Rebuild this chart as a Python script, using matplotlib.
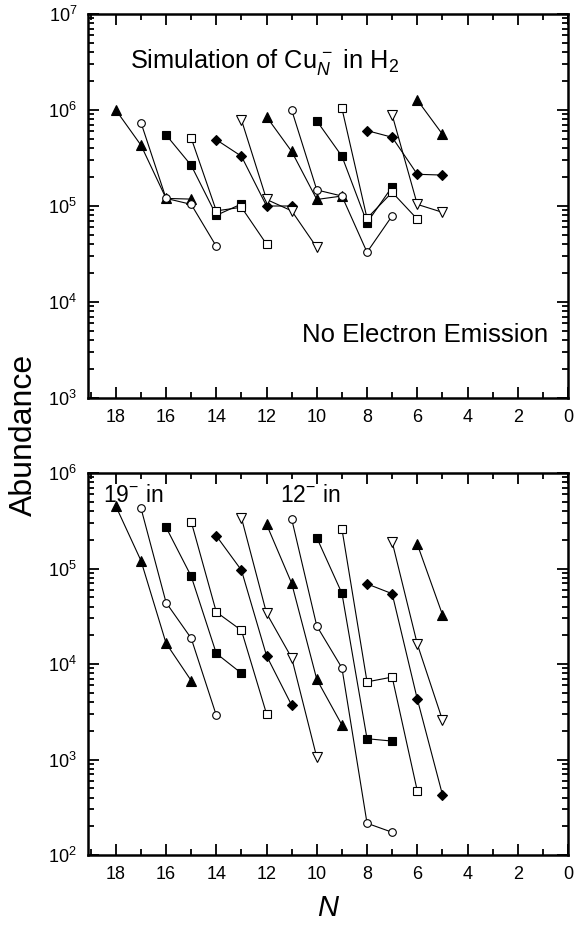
import numpy as np
import matplotlib
matplotlib.use("Agg")
import matplotlib.pyplot as plt
from matplotlib.ticker import LogLocator, MultipleLocator, NullFormatter

plt.rcParams['font.family'] = ['Liberation Sans', 'DejaVu Sans']
plt.rcParams['mathtext.fontset'] = 'custom'
plt.rcParams['mathtext.rm'] = 'Liberation Sans'
plt.rcParams['mathtext.it'] = 'Liberation Sans:italic'

# first N of each fragment series (one series per injected cluster size)
start_N = [18, 17, 16, 15, 14, 13, 12, 11, 10, 9, 8, 7, 6]

# simulation (top panel)
top_abund = [
    [1.0e6, 4.3e5, 1.2e5, 1.18e5],
    [7.4e5, 1.2e5, 1.04e5, 3.8e4],
    [5.5e5, 2.65e5, 8.0e4, 1.05e5],
    [5.1e5, 8.9e4, 9.7e4, 4.0e4],
    [4.9e5, 3.3e5, 1.0e5, 1.0e5],
    [7.9e5, 1.17e5, 8.9e4, 3.7e4],
    [8.5e5, 3.7e5, 1.17e5, 1.27e5],
    [1.0e6, 1.47e5, 1.27e5, 3.3e4, 7.9e4],
    [7.7e5, 3.3e5, 6.7e4, 1.59e5],
    [1.04e6, 7.45e4, 1.39e5, 7.3e4],
    [6.1e5, 5.2e5, 2.14e5, 2.1e5],
    [8.9e5, 1.04e5, 8.6e4],
    [1.27e6, 5.6e5],
]

# experiment (bottom panel)
bottom_abund = [
    [4.5e5, 1.21e5, 1.65e4, 6.7e3],
    [4.3e5, 4.4e4, 1.86e4, 2.9e3],
    [2.7e5, 8.3e4, 1.29e4, 8.0e3],
    [3.1e5, 3.5e4, 2.25e4, 3.0e3],
    [2.2e5, 9.6e4, 1.22e4, 3.7e3],
    [3.4e5, 3.4e4, 1.16e4, 1.05e3],
    [2.9e5, 7.0e4, 6.9e3, 2.3e3],
    [3.3e5, 2.5e4, 9.1e3, 215, 173],
    [2.1e5, 5.5e4, 1.65e3, 1.56e3],
    [2.6e5, 6.5e3, 7.3e3, 470],
    [6.9e4, 5.45e4, 4.3e3, 430],
    [1.9e5, 1.62e4, 2.6e3],
    [1.8e5, 3.3e4],
]

# marker cycle: filled triangle, open circle, filled square, open square, filled diamond, open down-triangle
styles = [('^', 'k', 6.5), ('o', 'w', 5.5), ('s', 'k', 5.5),
          ('s', 'w', 5.5), ('D', 'k', 5.0), ('v', 'w', 6.5)]

fig = plt.figure(figsize=(5.88, 9.33), dpi=100)
ax1 = fig.add_axes([0.150, 0.5734, 0.816, 0.4116])
ax2 = fig.add_axes([0.150, 0.0836, 0.816, 0.4094])


def draw(ax, data, ylim):
    for i, (n0, vals) in enumerate(zip(start_N, data)):
        m, fc, ms = styles[i % len(styles)]
        xs = n0 - np.arange(len(vals))
        ax.plot(xs, vals, '-', color='k', lw=0.8, marker=m, mfc=fc,
                mec='k', mew=0.8, ms=ms, zorder=3)
    ax.set_yscale('log')
    ax.set_ylim(*ylim)
    ax.set_xlim(19.1, 0)
    ax.xaxis.set_major_locator(MultipleLocator(2))
    ax.xaxis.set_minor_locator(MultipleLocator(1))
    ax.yaxis.set_major_locator(LogLocator(base=10, numticks=10))
    ax.yaxis.set_minor_locator(LogLocator(base=10, subs=np.arange(2, 10), numticks=10))
    ax.yaxis.set_minor_formatter(NullFormatter())
    ax.tick_params(which='both', direction='in', top=True, right=True,
                   labelsize=13, width=1.3)
    ax.tick_params(which='major', length=8, pad=8)
    ax.tick_params(which='minor', length=4)
    for s in ax.spines.values():
        s.set_linewidth(1.8)


draw(ax1, top_abund, (1e3, 1e7))
draw(ax2, bottom_abund, (1e2, 1e6))

ax1.text(0.088, 0.875, r'Simulation of Cu$_{\mathit{N}}^{\,-}$ in H$_2$',
         transform=ax1.transAxes, fontsize=18.3, va='center')
ax1.text(0.958, 0.165, 'No Electron Emission', transform=ax1.transAxes,
         fontsize=18.5, ha='right', va='center')

ax2.text(0.03, 0.94, r'19$^{-}$ in', transform=ax2.transAxes,
         fontsize=16.5, va='center')
ax2.text(0.40, 0.94, r'12$^{-}$ in', transform=ax2.transAxes,
         fontsize=16.5, va='center')

ax2.set_xlabel('N', fontsize=21, style='italic', labelpad=8)
fig.text(0.040, 0.534, 'Abundance', rotation=90, fontsize=23,
         ha='center', va='center')

fig.savefig('out.png', dpi=100)
